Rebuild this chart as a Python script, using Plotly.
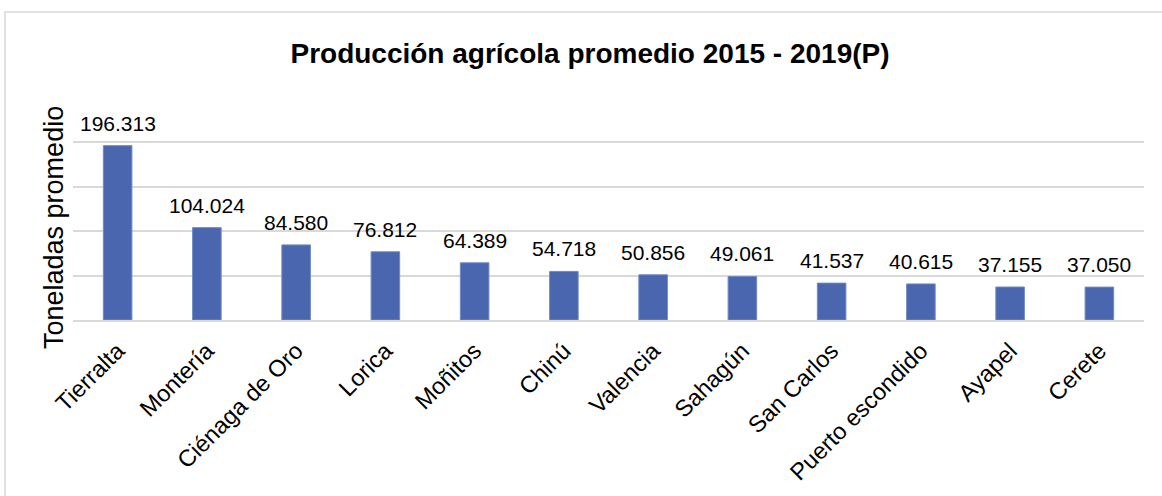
import plotly.graph_objects as go

municipios = ["Tierralta", "Montería", "Ciénaga de Oro", "Lorica", "Moñitos", "Chinú",
              "Valencia", "Sahagún", "San Carlos", "Puerto escondido", "Ayapel", "Cerete"]
toneladas = [196313, 104024, 84580, 76812, 64389, 54718, 50856, 49061, 41537, 40615, 37155, 37050]

FONT = "Liberation Sans, Arial, sans-serif"
BAR = "#4A66AE"

fig = go.Figure()
fig.add_trace(go.Bar(
    x=municipios, y=toneladas,
    marker=dict(color=BAR, line=dict(color="#6F8AC6", width=1)),
    hoverinfo="x+y",
))

for m, v in zip(municipios, toneladas):
    fig.add_annotation(x=m, y=v, text=f"{v:,}".replace(",", "."),
                       showarrow=False, yanchor="bottom", yshift=9,
                       font=dict(family=FONT, size=21, color="#000000"))

# y-axis title
fig.add_annotation(xref="paper", yref="paper", x=(54 - 73) / 1071, y=(320 - 228) / 222,
                   text="Toneladas promedio", textangle=-90, showarrow=False,
                   xanchor="center", yanchor="middle",
                   font=dict(family=FONT, size=27, color="#000000"))

# chart border
fig.add_shape(type="rect", xref="paper", yref="paper",
              x0=(5 - 73) / 1071, y0=(320 - 12) / 222, x1=1.2, y1=-2,
              line=dict(color="#D9D9D9", width=1.5), fillcolor="rgba(0,0,0,0)", layer="below")

fig.update_layout(
    width=1162, height=496,
    margin=dict(l=73, r=18, t=98, b=176),
    paper_bgcolor="white", plot_bgcolor="white",
    bargap=0.68,
    showlegend=False,
    title=dict(text="<b>Producción agrícola promedio 2015 - 2019(P)</b>",
               x=590/1162, xanchor="center", y=1-53/496, yanchor="middle",
               font=dict(family=FONT, size=28, color="#000000")),
    font=dict(family=FONT, color="#000000"),
    xaxis=dict(tickangle=-45, tickfont=dict(family=FONT, size=23.5, color="#000000"),
               showgrid=False, showline=True, linecolor="#D9D9D9", linewidth=1.5,
               ticks="", ticklabelstandoff=6),
    yaxis=dict(range=[0, 250001], tickvals=[0, 50000, 100000, 150000, 200000, 250000],
               showticklabels=False,
               showgrid=True, gridcolor="#D9D9D9", gridwidth=1.5,
               zeroline=False, showline=False, ticks=""),
)

fig.write_html("out.html", config={"displayModeBar": False},
               post_script="document.body.style.margin='0';document.body.style.overflow='hidden';")
